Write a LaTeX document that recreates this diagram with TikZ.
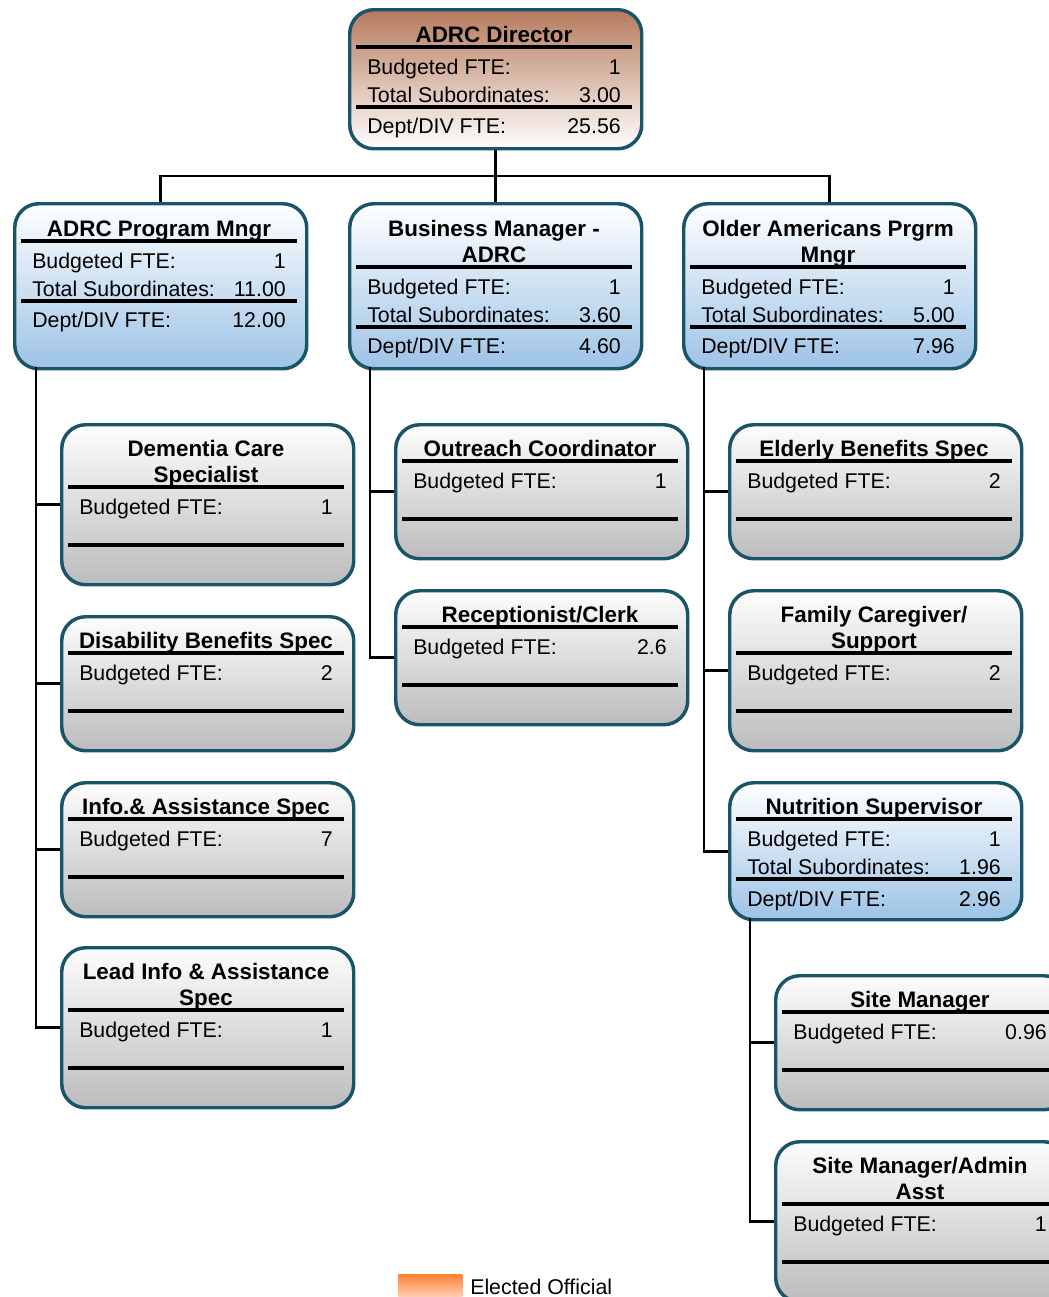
\documentclass[tikz,border=0pt]{standalone}
\usepackage{fontspec}
\setmainfont{Liberation Sans}
\usepackage{tikz}
\usetikzlibrary{positioning}
\definecolor{edge}{RGB}{26,84,104}
\definecolor{tan}{RGB}{182,122,92}
\definecolor{sky}{RGB}{157,195,230}
\definecolor{ash}{RGB}{188,188,188}
\definecolor{flame}{RGB}{255,128,48}
\newcommand{\heading}[3]{
  \node (#1) [heading] at (146,#2) {#3};}
\newcommand{\cardrule}[1]{
  \draw [divider] (8,#1) -- (284,#1);}
\newcommand{\field}[4]{
  \node (#1) [fieldname] at (19,#2) {#3};
  \node (#1v) [fieldvalue] at (273,#2) {#4};}

\begin{document}
\begin{tikzpicture}
[x=0.75pt,y=-0.75pt,
card/.style={draw=edge,line width=2.6pt,rounded corners=18pt,
  minimum width=219pt,anchor=north west,inner sep=0pt},
chief/.style={card,top color=tan,bottom color=white},
branch/.style={card,top color=white,bottom color=sky},
staff/.style={card,top color=white!97!ash,bottom color=ash},
heading/.style={anchor=base,inner sep=0pt,font=\bfseries\fontsize{16.8}{19}\selectfont},
fieldname/.style={anchor=base west,inner sep=0pt,font=\fontsize{16}{19}\selectfont},
fieldvalue/.style={anchor=base east,inner sep=0pt,font=\fontsize{16}{19}\selectfont},
divider/.style={line width=3pt},
link/.style={line width=2pt},
swatch/.style={anchor=north west,inner sep=0pt,minimum width=48pt,
  minimum height=24pt,top color=flame,bottom color=flame!10!white}]
\path [use as bounding box] (0,0) rectangle (1049,1297);
\clip (0,0) rectangle (1049,1297);

% connectors
\coordinate (top) at (494,176);
\coordinate (pm-leg) at (36,367);
\coordinate (bm-leg) at (370,367);
\coordinate (om-leg) at (704,367);
\coordinate (nut-leg) at (750,918);

% director
\begin{scope}[shift={(348,8)}]
\node (dir) [chief,minimum height=104.25pt] at (0,0) {};
\heading{dir-t}{34}{ADRC Director}
\cardrule{39}
\field{dir-b}{66}{Budgeted FTE:}{1}
\field{dir-s}{94}{Total Subordinates:}{3.00}
\cardrule{99}
\field{dir-d}{125}{Dept/DIV FTE:}{25.56}
\end{scope}

% managers
\begin{scope}[shift={(13,202)}]
\node (pm) [branch,minimum height=123.75pt] at (0,0) {};
\heading{pm-t}{34}{ADRC Program Mngr}
\cardrule{39}
\field{pm-b}{66}{Budgeted FTE:}{1}
\field{pm-s}{94}{Total Subordinates:}{11.00}
\cardrule{99}
\field{pm-d}{125}{Dept/DIV FTE:}{12.00}
\end{scope}

\begin{scope}[shift={(348,202)}]
\node (bm) [branch,minimum height=123.75pt] at (0,0) {};
\heading{bm-t1}{34}{Business Manager -}
\heading{bm-t2}{60}{ADRC}
\cardrule{65}
\field{bm-b}{92}{Budgeted FTE:}{1}
\field{bm-s}{120}{Total Subordinates:}{3.60}
\cardrule{125}
\field{bm-d}{151}{Dept/DIV FTE:}{4.60}
\end{scope}

\begin{scope}[shift={(682,202)}]
\node (om) [branch,minimum height=123.75pt] at (0,0) {};
\heading{om-t1}{34}{Older Americans Prgrm}
\heading{om-t2}{60}{Mngr}
\cardrule{65}
\field{om-b}{92}{Budgeted FTE:}{1}
\field{om-s}{120}{Total Subordinates:}{5.00}
\cardrule{125}
\field{om-d}{151}{Dept/DIV FTE:}{7.96}
\end{scope}

% ADRC program staff
\begin{scope}[shift={(60,423)}]
\node (dem) [staff,minimum height=120pt] at (0,0) {};
\heading{dem-t1}{33}{Dementia Care}
\heading{dem-t2}{59}{Specialist}
\cardrule{64}
\field{dem-b}{91}{Budgeted FTE:}{1}
\cardrule{122}
\end{scope}

\begin{scope}[shift={(60,615)}]
\node (dis) [staff,minimum height=100.5pt] at (0,0) {};
\heading{dis-t}{33}{Disability Benefits Spec}
\cardrule{38}
\field{dis-b}{65}{Budgeted FTE:}{2}
\cardrule{96}
\end{scope}

\begin{scope}[shift={(60,781)}]
\node (info) [staff,minimum height=100.5pt] at (0,0) {};
\heading{info-t}{33}{Info.\& Assistance Spec}
\cardrule{38}
\field{info-b}{65}{Budgeted FTE:}{7}
\cardrule{96}
\end{scope}

\begin{scope}[shift={(60,946)}]
\node (lead) [staff,minimum height=120pt] at (0,0) {};
\heading{lead-t1}{33}{Lead Info \& Assistance}
\heading{lead-t2}{59}{Spec}
\cardrule{64}
\field{lead-b}{91}{Budgeted FTE:}{1}
\cardrule{122}
\end{scope}

% business staff
\begin{scope}[shift={(394,423)}]
\node (out) [staff,minimum height=100.5pt] at (0,0) {};
\heading{out-t}{33}{Outreach Coordinator}
\cardrule{38}
\field{out-b}{65}{Budgeted FTE:}{1}
\cardrule{96}
\end{scope}

\begin{scope}[shift={(394,589)}]
\node (rec) [staff,minimum height=100.5pt] at (0,0) {};
\heading{rec-t}{33}{Receptionist/Clerk}
\cardrule{38}
\field{rec-b}{65}{Budgeted FTE:}{2.6}
\cardrule{96}
\end{scope}

% older americans staff
\begin{scope}[shift={(728,423)}]
\node (eld) [staff,minimum height=100.5pt] at (0,0) {};
\heading{eld-t}{33}{Elderly Benefits Spec}
\cardrule{38}
\field{eld-b}{65}{Budgeted FTE:}{2}
\cardrule{96}
\end{scope}

\begin{scope}[shift={(728,589)}]
\node (fam) [staff,minimum height=120pt] at (0,0) {};
\heading{fam-t1}{33}{Family Caregiver/}
\heading{fam-t2}{59}{Support}
\cardrule{64}
\field{fam-b}{91}{Budgeted FTE:}{2}
\cardrule{122}
\end{scope}

\begin{scope}[shift={(728,781)}]
\node (nut) [branch,minimum height=102.75pt] at (0,0) {};
\heading{nut-t}{33}{Nutrition Supervisor}
\cardrule{38}
\field{nut-b}{65}{Budgeted FTE:}{1}
\field{nut-s}{93}{Total Subordinates:}{1.96}
\cardrule{98}
\field{nut-d}{125}{Dept/DIV FTE:}{2.96}
\end{scope}

% nutrition staff
\begin{scope}[shift={(774,974)}]
\node (site) [staff,minimum height=100.5pt] at (0,0) {};
\heading{site-t}{33}{Site Manager}
\cardrule{38}
\field{site-b}{65}{Budgeted FTE:}{0.96}
\cardrule{96}
\end{scope}

\begin{scope}[shift={(774,1140)}]
\node (adm) [staff,minimum height=120pt] at (0,0) {};
\heading{adm-t1}{33}{Site Manager/Admin}
\heading{adm-t2}{59}{Asst}
\cardrule{64}
\field{adm-b}{91}{Budgeted FTE:}{1}
\cardrule{122}
\end{scope}

\draw [link] (dir.south) -- (bm.north);
\draw [link] (pm.north) |- (top) -| (om.north);
\draw [link] (pm-leg) |- (dem.west);
\draw [link] (pm-leg) |- (dis.west);
\draw [link] (pm-leg) |- (info.west);
\draw [link] (pm-leg) |- (lead.west);
\draw [link] (bm-leg) |- (out.west);
\draw [link] (bm-leg) |- (rec.west);
\draw [link] (om-leg) |- (eld.west);
\draw [link] (om-leg) |- (fam.west);
\draw [link] (om-leg) |- (nut.west);
\draw [link] (nut-leg) |- (site.west);
\draw [link] (nut-leg) |- (adm.west);

% legend
\node (key) [swatch] at (398,1274) {};
\node (key-t) [fieldname] at (470,1294) {Elected Official};
\end{tikzpicture}
\end{document}
